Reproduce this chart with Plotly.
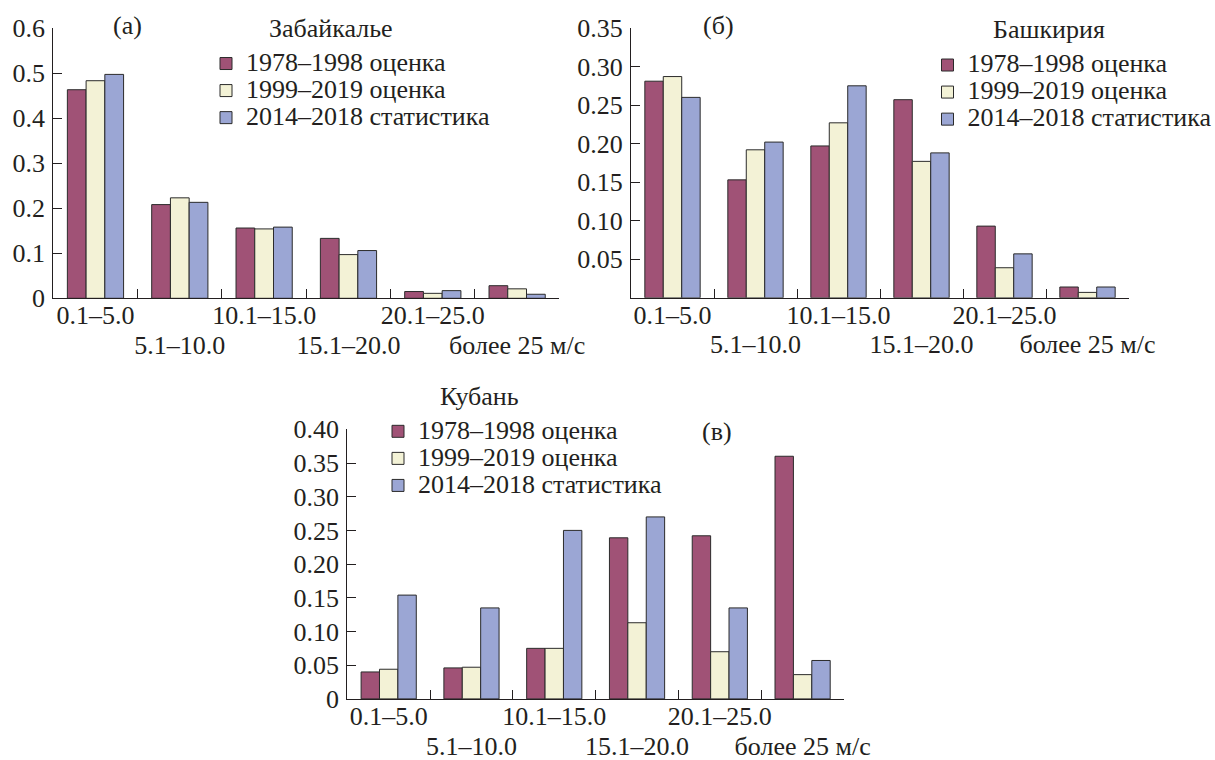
import plotly.graph_objects as go

# Wind-speed classes (x categories)
categories = ["0.1–5.0", "5.1–10.0", "10.1–15.0", "15.1–20.0", "20.1–25.0", "более 25 м/с"]
series_names = ["1978–1998 оценка", "1999–2019 оценка", "2014–2018 статистика"]

# (а) Забайкалье
zab_1978_1998 = [0.463, 0.208, 0.156, 0.133, 0.015, 0.028]
zab_1999_2019 = [0.483, 0.223, 0.154, 0.097, 0.011, 0.021]
zab_2014_2018 = [0.497, 0.213, 0.158, 0.106, 0.017, 0.009]

# (б) Башкирия
bash_1978_1998 = [0.281, 0.153, 0.197, 0.257, 0.093, 0.014]
bash_1999_2019 = [0.287, 0.192, 0.227, 0.177, 0.039, 0.007]
bash_2014_2018 = [0.260, 0.202, 0.275, 0.188, 0.057, 0.014]

# (в) Кубань
kub_1978_1998 = [0.040, 0.046, 0.075, 0.239, 0.242, 0.360]
kub_1999_2019 = [0.044, 0.047, 0.075, 0.113, 0.070, 0.036]
kub_2014_2018 = [0.154, 0.135, 0.250, 0.270, 0.135, 0.057]

# y tick values / labels per panel
zab_ticks = [0, 0.1, 0.2, 0.3, 0.4, 0.5, 0.6]
zab_ticktext = ["0", "0.1", "0.2", "0.3", "0.4", "0.5", "0.6"]
bash_ticks = [0.05, 0.10, 0.15, 0.20, 0.25, 0.30, 0.35]
bash_ticktext = ["0.05", "0.10", "0.15", "0.20", "0.25", "0.30", "0.35"]
kub_ticks = [0, 0.05, 0.10, 0.15, 0.20, 0.25, 0.30, 0.35, 0.40]
kub_ticktext = ["0", "0.05", "0.10", "0.15", "0.20", "0.25", "0.30", "0.35", "0.40"]

colors = ["#A05276", "#F3F2D6", "#9BA6D4"]
INK = "#231f20"
FONT = '"Liberation Serif", "Times New Roman", serif'
W, H = 1215, 760


def px_x(v):
    return v / W


def px_y(v):
    return 1 - v / H


def big(t):
    return f'<span style="font-size:26px">{t}</span>'


# staggered category labels: every second one goes to a lower row
x_ticktext = [big(c) if i % 2 == 0 else "<br>" + big(c) for i, c in enumerate(categories)]

panels = [
    dict(series=[zab_1978_1998, zab_1999_2019, zab_2014_2018], ax="", legend="legend",
         xdom=[px_x(53.3), px_x(559.3)], ydom=[px_y(298.3), px_y(28)],
         yrange=[0, 0.6], ticks=zab_ticks, ticktext=zab_ticktext),
    dict(series=[bash_1978_1998, bash_1999_2019, bash_2014_2018], ax="2", legend="legend2",
         xdom=[px_x(631), px_x(1129)], ydom=[px_y(297.8), px_y(28)],
         yrange=[0, 0.35], ticks=bash_ticks, ticktext=bash_ticktext),
    dict(series=[kub_1978_1998, kub_1999_2019, kub_2014_2018], ax="3", legend="legend3",
         xdom=[px_x(347.3), px_x(844)], ydom=[px_y(698.9), px_y(429.3)],
         yrange=[0, 0.40], ticks=kub_ticks, ticktext=kub_ticktext),
]

fig = go.Figure()
layout = dict(
    width=W, height=H,
    margin=dict(l=0, r=0, t=0, b=0, autoexpand=False),
    paper_bgcolor="white", plot_bgcolor="white",
    barmode="group", bargap=1 / 3, bargroupgap=0,
    font=dict(family=FONT, size=26, color=INK),
)

for p in panels:
    for name, vals, col in zip(series_names, p["series"], colors):
        fig.add_trace(go.Bar(
            x=categories, y=vals,
            name=big(name),
            marker=dict(color=col, line=dict(color="#2b2b2b", width=1)),
            xaxis="x" + p["ax"], yaxis="y" + p["ax"],
            legend=p["legend"], hoverinfo="skip",
        ))
    layout["xaxis" + p["ax"]] = dict(
        domain=p["xdom"], anchor="y" + p["ax"],
        type="category", categoryorder="array", categoryarray=categories,
        tickmode="array", tickvals=categories, ticktext=x_ticktext,
        tickson="boundaries", ticks="inside", ticklen=9, tickwidth=1.3, tickcolor=INK,
        showline=True, linecolor=INK, linewidth=1.3,
        showgrid=False, zeroline=False, tickangle=0, ticklabelstandoff=-3,
        tickfont=dict(family=FONT, size=23, color=INK),
    )
    layout["yaxis" + p["ax"]] = dict(
        domain=p["ydom"], anchor="x" + p["ax"], range=p["yrange"],
        tickmode="array", tickvals=p["ticks"], ticktext=p["ticktext"],
        ticks="inside", ticklen=9, tickwidth=1.3, tickcolor=INK,
        showline=True, linecolor=INK, linewidth=1.3,
        showgrid=False, zeroline=False, ticklabelstandoff=2,
        tickfont=dict(family=FONT, size=26, color=INK),
    )

legend_common = dict(
    xref="paper", yref="paper", xanchor="left", yanchor="top",
    bgcolor="rgba(0,0,0,0)", borderwidth=0,
    font=dict(family=FONT, size=18.5, color=INK),
    itemwidth=30, tracegroupgap=0,
)
layout["legend"] = dict(x=px_x(206), y=px_y(45), **legend_common)
layout["legend2"] = dict(x=px_x(927.5), y=px_y(46.5), **legend_common)
layout["legend3"] = dict(x=px_x(378), y=px_y(412.8), **legend_common)

annotations = [
    ("(a)", 127, 25),
    ("Забайкалье", 330.6, 28),
    ("(б)", 718.5, 25),
    ("Башкирия", 1048.7, 29.7),
    ("Кубань", 479.8, 396.7),
    ("(в)", 717, 431),
]
layout["annotations"] = [
    dict(text=t, x=px_x(x), y=px_y(y), xref="paper", yref="paper",
         xanchor="center", yanchor="middle", showarrow=False,
         font=dict(family=FONT, size=26, color=INK))
    for t, x, y in annotations
]

fig.update_layout(**layout)
fig.write_html("out.html")
